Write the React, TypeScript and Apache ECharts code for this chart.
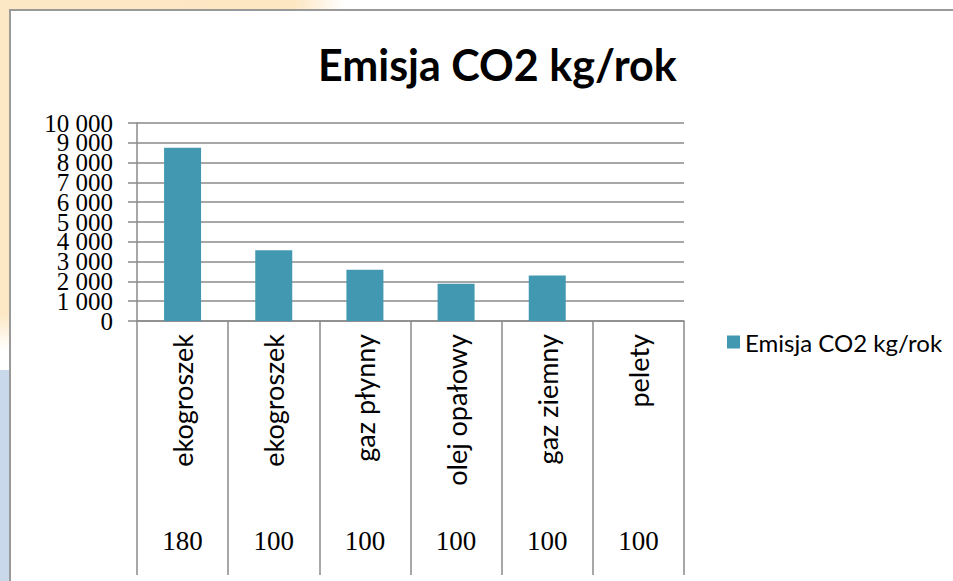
import React, { useEffect, useRef } from "react";
import * as echarts from "echarts";

const categories = ["ekogroszek", "ekogroszek", "gaz płynny", "olej opałowy", "gaz ziemny", "pelety"];
const subLabels = ["180", "100", "100", "100", "100", "100"];
const emissions = [8750, 3570, 2590, 1880, 2300, 0];
const seriesName = "Emisja CO2 kg/rok";
const titleText = "Emisja CO2 kg/rok";
const yMax = 10000;
const yStep = 1000;

export default function App() {
  const ref = useRef<HTMLDivElement>(null);
  useEffect(() => {
    if (!ref.current) return;
    const chart = echarts.init(ref.current, undefined, { renderer: "svg" });
    const serif = "'Liberation Serif', 'DejaVu Serif', serif";
    const sans = "Lato, 'Open Sans', sans-serif";
    const fmt = (v: number) => (v >= 1000 ? `${Math.floor(v / 1000)} 000` : `${v}`);
    const labelStyle = {
      margin: 24,
      fontFamily: serif,
      fontSize: 25,
      color: "#000",
      showMinLabel: true,
      showMaxLabel: true,
    };
    chart.setOption({
      animation: false,
      backgroundColor: "#ffffff",
      graphic: [
        {
          type: "rect",
          shape: { x: 0, y: 0, width: 345, height: 10 },
          style: {
            fill: new echarts.graphic.LinearGradient(0, 0, 1, 0, [
              { offset: 0, color: "#fde8c6" },
              { offset: 0.85, color: "#fde6c2" },
              { offset: 1, color: "#ffffff" },
            ]),
          },
          z: 0,
        },
        {
          type: "rect",
          shape: { x: 0, y: 0, width: 10, height: 350 },
          style: {
            fill: new echarts.graphic.LinearGradient(0, 0, 0, 1, [
              { offset: 0, color: "#fde8c6" },
              { offset: 0.9, color: "#fde8c6" },
              { offset: 1, color: "#ffffff" },
            ]),
          },
          z: 0,
        },
        {
          type: "rect",
          shape: { x: 0, y: 370, width: 10, height: 211 },
          style: { fill: "#c9d8eb" },
          z: 0,
        },
        {
          type: "rect",
          shape: { x: 10, y: 10, width: 1000, height: 600 },
          style: { fill: "#ffffff", stroke: "#9a9a9a", lineWidth: 2 },
          z: 0,
        },
      ],
      title: {
        text: titleText,
        left: 313,
        top: 38,
        textStyle: { fontFamily: sans, fontWeight: "bold", fontSize: 43, color: "#000" },
      },
      legend: {
        left: 722,
        top: 325,
        itemWidth: 13,
        itemHeight: 13,
        icon: "rect",
        data: [seriesName],
        textStyle: { fontFamily: sans, fontSize: 24, color: "#000" },
      },
      grid: { left: 137, top: 123, width: 547, height: 198 },
      yAxis: [
        {
          type: "value",
          min: 0,
          max: yMax,
          interval: yStep,
          axisLine: { show: true, lineStyle: { color: "#8a8a8a", width: 1.5 } },
          axisTick: { show: true, length: 9, lineStyle: { color: "#8a8a8a", width: 1.5 } },
          splitLine: { show: true, lineStyle: { color: "#8a8a8a", width: 1.5 } },
          axisLabel: {
            ...labelStyle,
            formatter: (v: number) => ((v / yStep) % 2 === 0 ? fmt(v) : ""),
          },
        },
        {
          type: "value",
          position: "left",
          offset: 0,
          min: 0,
          max: yMax,
          interval: yStep,
          axisLine: { show: false },
          axisTick: { show: false },
          splitLine: { show: false },
          axisLabel: {
            ...labelStyle,
            formatter: (v: number) => ((v / yStep) % 2 === 1 ? fmt(v) : ""),
          },
        },
      ],
      xAxis: [
        {
          type: "category",
          data: categories,
          axisLine: { show: true, lineStyle: { color: "#8a8a8a", width: 1.5 } },
          axisTick: { show: true, interval: 0, length: 254, lineStyle: { color: "#8a8a8a", width: 1.5 } },
          axisLabel: {
            interval: 0,
            rotate: 90,
            margin: 13,
            fontFamily: sans,
            fontSize: 27,
            color: "#000",
          },
        },
        {
          type: "category",
          data: subLabels,
          position: "bottom",
          offset: 200,
          axisLine: { show: false },
          axisTick: { show: false },
          axisLabel: {
            interval: 0,
            margin: 6,
            fontFamily: serif,
            fontSize: 27,
            color: "#000",
          },
        },
      ],
      series: [
        {
          name: seriesName,
          type: "bar",
          xAxisIndex: 0,
          yAxisIndex: 0,
          data: emissions,
          barWidth: 37,
          itemStyle: { color: "#4298b0" },
        },
      ],
    });
    return () => chart.dispose();
  }, []);
  return (
    <div
      ref={ref}
      style={{ position: "absolute", left: 0, top: 0, width: 953, height: 581 }}
    />
  );
}
